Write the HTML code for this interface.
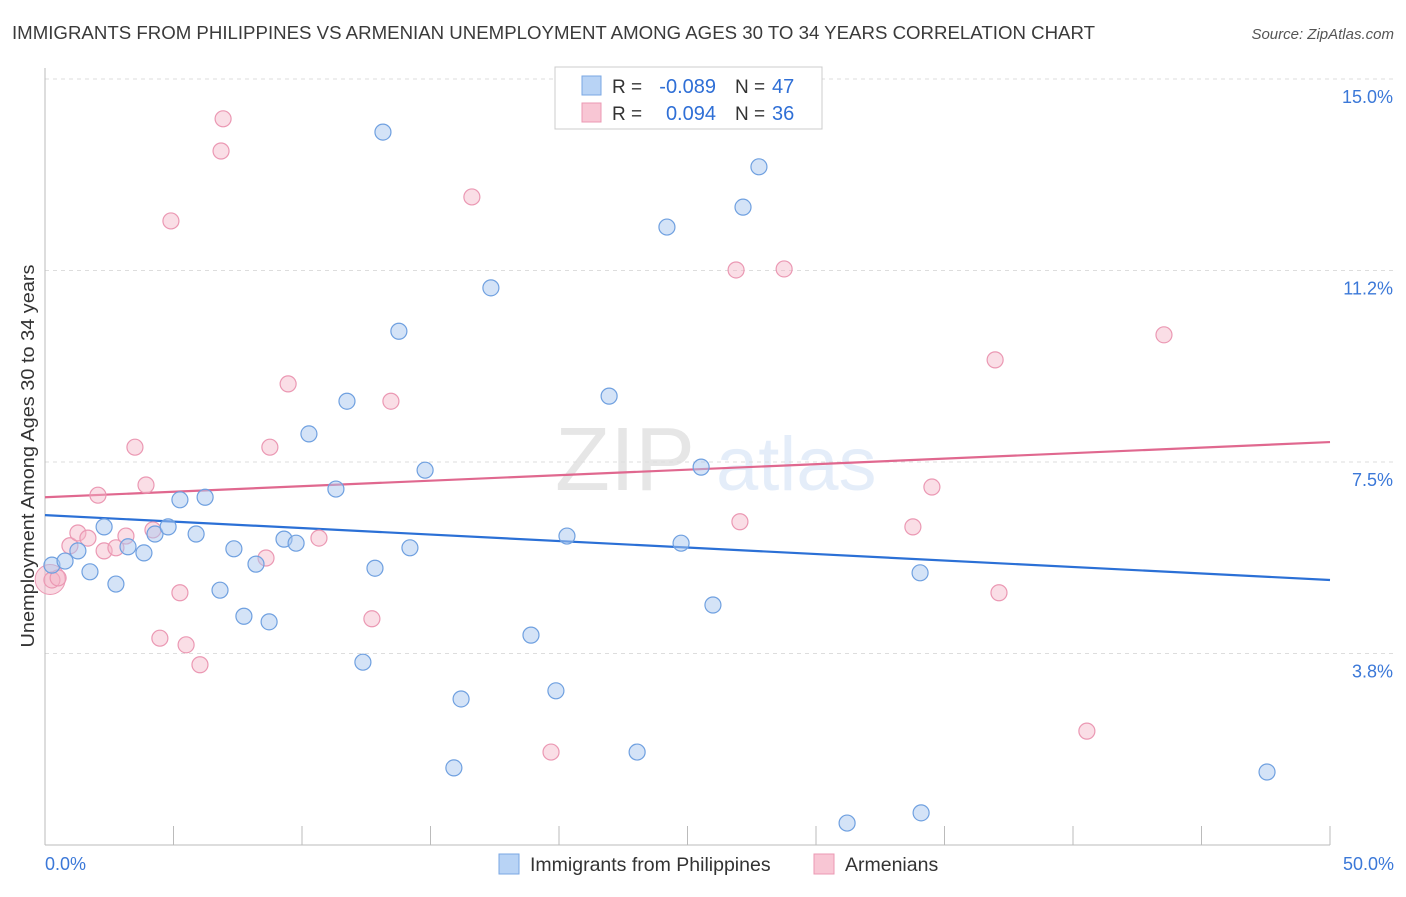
<!DOCTYPE html>
<html><head><meta charset="utf-8"><style>
body{margin:0;background:#fff;font-family:"Liberation Sans",sans-serif;}
svg text{font-family:"Liberation Sans",sans-serif;}
</style></head><body>
<svg id="chart" width="1406" height="892" xmlns="http://www.w3.org/2000/svg">
<text x="12" y="39" font-size="18" fill="#3a3a3a" textLength="1083" lengthAdjust="spacingAndGlyphs">IMMIGRANTS FROM PHILIPPINES VS ARMENIAN UNEMPLOYMENT AMONG AGES 30 TO 34 YEARS CORRELATION CHART</text>
<text x="1394" y="39" font-size="15" fill="#555" text-anchor="end" font-style="italic">Source: ZipAtlas.com</text>
<g opacity="0.13"><text x="555" y="490" font-size="90" font-family="Liberation Serif" fill="#444">ZIP</text><text x="716" y="490" font-size="76" fill="#3a7bd5">atlas</text></g>
<g id="grid"></g><g id="axes"></g><g id="lines"></g><g id="pts"></g>
<text x="-456" y="34" transform="rotate(-90)" font-size="18" fill="#333" text-anchor="middle" textLength="383" lengthAdjust="spacingAndGlyphs">Unemployment Among Ages 30 to 34 years</text>
<g>
<rect x="555" y="67" width="267" height="62" fill="#fff" stroke="#ccc"/>
<rect x="582" y="76" width="19" height="19" fill="#b8d3f5" stroke="#7aa7e3"/>
<rect x="582" y="103" width="19" height="19" fill="#f8c6d4" stroke="#eb98b3"/>
<text x="612" y="93" font-size="19" fill="#333">R =</text>
<text x="716" y="93" font-size="20" fill="#2f6fd6" text-anchor="end">-0.089</text>
<text x="735" y="93" font-size="19" fill="#333">N =</text>
<text x="772" y="93" font-size="20" fill="#2f6fd6">47</text>
<text x="612" y="120" font-size="19" fill="#333">R =</text>
<text x="716" y="120" font-size="20" fill="#2f6fd6" text-anchor="end">0.094</text>
<text x="735" y="120" font-size="19" fill="#333">N =</text>
<text x="772" y="120" font-size="20" fill="#2f6fd6">36</text>
</g>
<g>
<rect x="499" y="854" width="20" height="20" fill="#b8d3f5" stroke="#7aa7e3"/>
<text x="530" y="871" font-size="19.5" fill="#333">Immigrants from Philippines</text>
<rect x="814" y="854" width="20" height="20" fill="#f8c6d4" stroke="#eb98b3"/>
<text x="845" y="871" font-size="19.5" fill="#333">Armenians</text>
</g>
</svg>
<script>
const yTicks=[15.0,11.25,7.5,3.75];
const yTickLabels=["15.0%","11.2%","7.5%","3.8%"];
const xTickLabels=["0.0%","50.0%"];
const blueX=[0.27,0.78,1.28,1.75,2.30,2.76,3.23,3.85,4.28,4.79,5.25,5.88,6.23,6.81,7.35,7.74,8.21,8.72,9.30,9.77,10.27,11.32,11.75,12.37,12.84,13.15,13.77,14.20,14.79,15.91,16.19,17.35,18.91,19.88,20.31,21.95,23.04,24.20,24.75,25.53,25.99,27.16,27.78,31.21,34.05,34.09,47.55];
const blueY=[5.48,5.56,5.76,5.35,6.23,5.11,5.84,5.72,6.09,6.23,6.76,6.09,6.81,4.99,5.80,4.48,5.50,4.37,5.99,5.91,8.05,6.97,8.69,3.58,5.42,13.96,10.06,5.82,7.34,1.51,2.86,10.91,4.11,3.02,6.05,8.79,1.82,12.10,5.91,7.40,4.70,12.49,13.28,0.43,5.33,0.63,1.43];
const pinkX=[0.27,0.51,0.97,1.28,1.67,2.06,2.30,2.76,3.15,3.50,3.93,4.20,4.47,4.90,5.25,5.49,6.03,6.85,6.93,8.60,8.75,9.46,10.66,12.72,13.46,16.61,19.69,26.89,27.04,28.76,33.77,34.51,36.97,37.12,40.54,43.54];
const pinkY=[5.19,5.23,5.86,6.11,6.01,6.85,5.76,5.82,6.05,7.79,7.05,6.17,4.05,12.22,4.94,3.92,3.53,13.59,14.22,5.62,7.79,9.03,6.01,4.43,8.69,12.69,1.82,11.26,6.33,11.28,6.23,7.01,9.50,4.94,2.23,9.99];
const blueTrend=[6.46,5.19];
const pinkTrend=[6.81,7.89];
const xs=v=>45+v/50*1285;
const ys=v=>462-(v-7.5)*51.07;
const NS="http://www.w3.org/2000/svg";
function mk(t,a,p){const e=document.createElementNS(NS,t);for(const k in a)e.setAttribute(k,a[k]);p.appendChild(e);return e;}
const grid=document.getElementById('grid'),axes=document.getElementById('axes');
yTicks.forEach((v,i)=>{
 const l=mk('line',{x1:45,x2:1394,y1:ys(v),y2:ys(v),stroke:'#ddd','stroke-dasharray':'4,4'},grid);
 
 
 const t=mk('text',{x:1393,y:ys(v)+24,'font-size':18,fill:'#3b78d8','text-anchor':'end'},axes);
 t.textContent=yTickLabels[i];
 
 
});
const ax=mk('line',{x1:45,x2:1330,y1:845,y2:845,stroke:'#bbb'},axes);


const ay=mk('line',{x1:45,x2:45,y1:68,y2:845,stroke:'#bbb'},axes);


for(let i=0;i<=10;i++){
 const tk=mk('line',{x1:xs(i*5),x2:xs(i*5),y1:826,y2:845,stroke:'#bbb'},axes);
 
 
}
[[0,'start',45],[50,'end',1394]].forEach((d,i)=>{
 const t=mk('text',{x:d[2],y:870,'font-size':18,fill:'#3b78d8','text-anchor':d[1]},axes);
 t.textContent=xTickLabels[i];
 
 
});
const pts=document.getElementById('pts');
const big1=mk('circle',{cx:xs(0.2),cy:ys(5.2),r:15,fill:'rgba(244,182,200,0.5)',stroke:'#eb98b3'},pts);


pinkX.forEach((x,i)=>{
 const c=mk('circle',{cx:xs(x),cy:ys(pinkY[i]),r:8,fill:'rgba(244,182,200,0.45)',stroke:'#eb98b3','stroke-width':1.2},pts);
 
 
});
blueX.forEach((x,i)=>{
 const c=mk('circle',{cx:xs(x),cy:ys(blueY[i]),r:8,fill:'rgba(169,200,240,0.5)',stroke:'#6fa0e0','stroke-width':1.2},pts);
 
 
});
const lines=document.getElementById('lines');
const bl=mk('line',{x1:xs(0),x2:xs(50),y1:ys(blueTrend[0]),y2:ys(blueTrend[1]),stroke:'#2b70d6','stroke-width':2.2},lines);


const pl=mk('line',{x1:xs(0),x2:xs(50),y1:ys(pinkTrend[0]),y2:ys(pinkTrend[1]),stroke:'#e0688f','stroke-width':2.2},lines);


</script>
</body></html>
